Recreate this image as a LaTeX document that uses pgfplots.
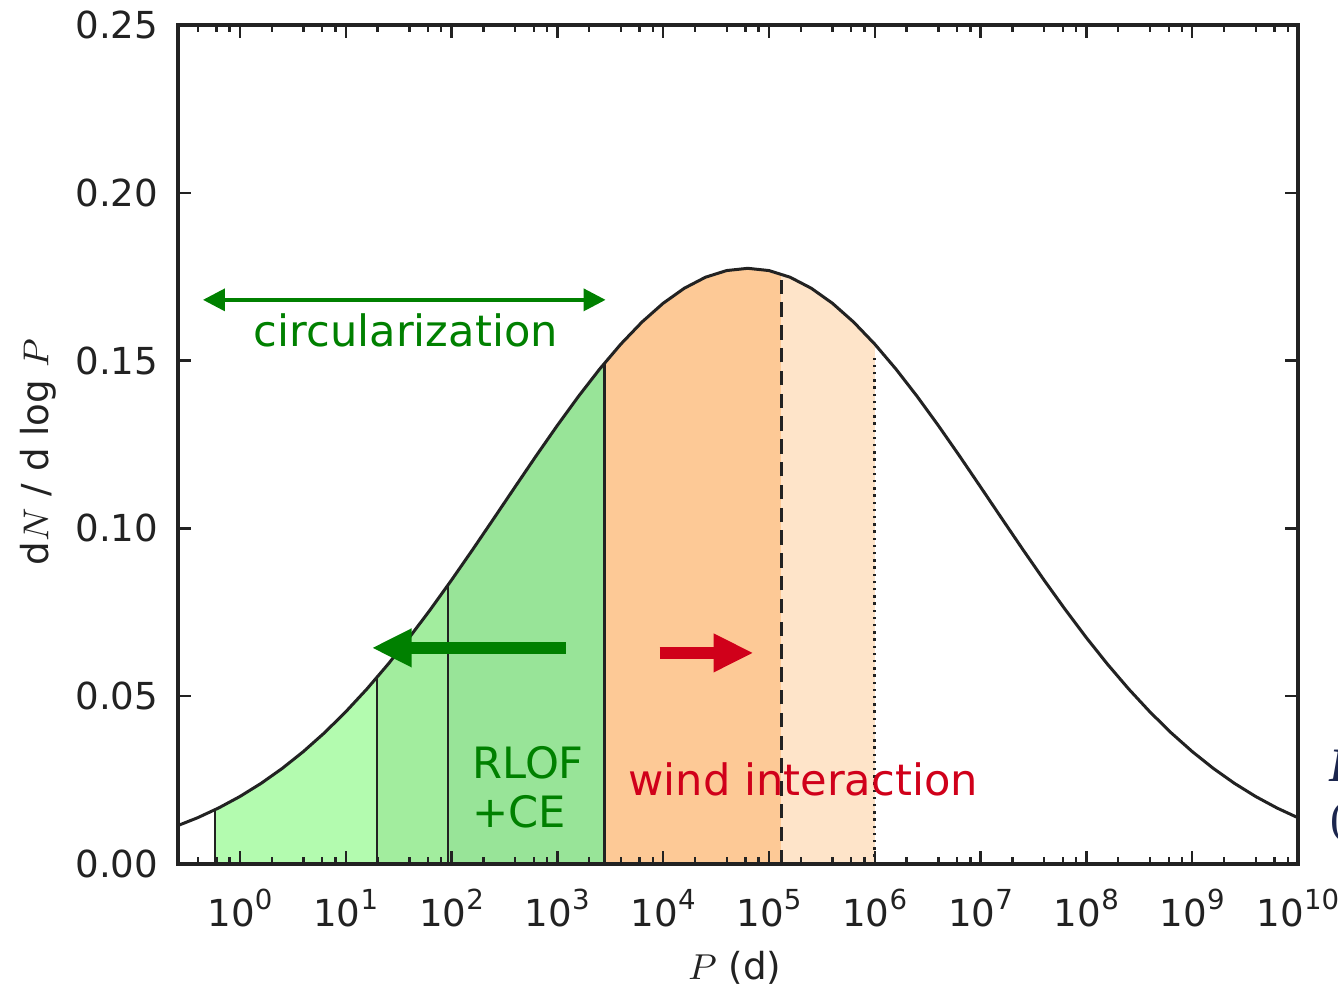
\documentclass[border=0pt]{standalone}
\usepackage{fontspec}
\setmainfont{DejaVu Sans}
\newfontfamily\serifside{Liberation Serif}
\usepackage{pgfplots}
\usepackage{pgfplotstable}
\pgfplotsset{compat=1.18}
\usepgfplotslibrary{fillbetween}
\usetikzlibrary{arrows.meta}

\definecolor{gA}{RGB}{179,251,175}
\definecolor{gB}{RGB}{162,237,158}
\definecolor{gC}{RGB}{152,228,152}
\definecolor{oA}{RGB}{253,201,150}
\definecolor{oB}{RGB}{254,228,201}
\definecolor{txtgreen}{RGB}{0,128,0}
\definecolor{txtred}{RGB}{208,0,26}
\definecolor{ink}{RGB}{34,34,34}
\definecolor{navy}{RGB}{28,38,78}

% power-of-ten tick label
\newcommand{\tenpow}[1]{10\raisebox{4.3pt}{\fontsize{6.9}{7}\selectfont #1}}

% log-normal period distribution, columns: log10 P [d], dN/dlogP
\pgfplotstableread{
lp    f
-0.6  0.01128
-0.4  0.01378
-0.2  0.01671
0.0   0.02011
0.2   0.02402
0.4   0.02848
0.6   0.03351
0.8   0.03912
1.0   0.04534
1.2   0.05214
1.4   0.05952
1.6   0.06743
1.8   0.07582
2.0   0.08460
2.2   0.09369
2.4   0.10298
2.6   0.11234
2.8   0.12163
3.0   0.13068
3.2   0.13935
3.4   0.14748
3.6   0.15491
3.8   0.16149
4.0   0.16708
4.2   0.17156
4.4   0.17484
4.6   0.17683
4.8   0.17750
5.0   0.17683
5.2   0.17484
5.4   0.17156
5.6   0.16708
5.8   0.16149
6.0   0.15491
6.2   0.14748
6.4   0.13935
6.6   0.13068
6.8   0.12163
7.0   0.11234
7.2   0.10298
7.4   0.09369
7.6   0.08460
7.8   0.07582
8.0   0.06743
8.2   0.05952
8.4   0.05214
8.6   0.04534
8.8   0.03912
9.0   0.03351
9.2   0.02848
9.4   0.02402
9.6   0.02011
9.8   0.01671
10.0  0.01378
}\dist

\begin{document}
\begin{tikzpicture}
\begin{axis}[
  at={(0,0)}, anchor=south west,
  scale only axis, width=280pt, height=209.75pt,
  xmin=-0.585, xmax=10, ymin=0, ymax=0.25,
  axis on top,
  axis line style={ink, line width=0.85pt},
  tick align=inside,
  major tick length=3.3pt, minor tick length=1.75pt,
  every tick/.style={ink, line width=0.6pt},
  xtick={0,1,2,3,4,5,6,7,8,9,10},
  xticklabels={\tenpow{0},\tenpow{1},\tenpow{2},\tenpow{3},\tenpow{4},\tenpow{5},\tenpow{6},\tenpow{7},\tenpow{8},\tenpow{9},\tenpow{10}},
  minor xtick={-0.398,-0.222,-0.097,
    0.301,0.602,0.778,0.903, 1.301,1.602,1.778,1.903,
    2.301,2.602,2.778,2.903, 3.301,3.602,3.778,3.903,
    4.301,4.602,4.778,4.903, 5.301,5.602,5.778,5.903,
    6.301,6.602,6.778,6.903, 7.301,7.602,7.778,7.903,
    8.301,8.602,8.778,8.903, 9.301,9.602,9.778,9.903},
  ytick={0,0.05,0.1,0.15,0.2,0.25},
  yticklabels={0.00,0.05,0.10,0.15,0.20,0.25},
  minor ytick={},
  ticklabel style={font=\fontsize{9.3}{11}\selectfont, text=ink},
  xticklabel style={anchor=base, yshift=-15.7pt},
  yticklabel style={xshift=-1.4pt},
  xlabel={$P$ (d)},
  ylabel={d$N$ / d log $P$},
  label style={font=\fontsize{9.3}{11}\selectfont, text=ink},
  xlabel style={at={(axis description cs:0.497,-0.124)}, anchor=center},
  ylabel style={at={(axis description cs:-0.125,0.491)}, anchor=center},
]
\addplot[name path=curve, draw=none, forget plot] table[x=lp, y=f] {\dist};
\addplot[name path=base, draw=none, forget plot] coordinates {(-0.6,0) (10,0)};

\addplot[fill=gA, draw=none] fill between[of=curve and base, soft clip={domain=-0.236:1.297}];
\addplot[fill=gB, draw=none] fill between[of=curve and base, soft clip={domain=1.297:1.967}];
\addplot[fill=gC, draw=none] fill between[of=curve and base, soft clip={domain=1.967:3.447}];
\addplot[fill=oA, draw=none] fill between[of=curve and base, soft clip={domain=3.447:5.115}];
\addplot[fill=oB, draw=none] fill between[of=curve and base, soft clip={domain=5.115:6.0}];

% region boundaries
\addplot[ink, line width=0.65pt] coordinates {(-0.236,0) (-0.236,0.01615)};
\addplot[ink, line width=0.65pt] coordinates {(1.297,0) (1.297,0.05565)};
\addplot[ink, line width=0.65pt] coordinates {(1.967,0) (1.967,0.08313)};
\addplot[ink, line width=0.65pt] coordinates {(3.447,0) (3.447,0.14930)};
\addplot[ink, line width=0.8pt, dash pattern=on 3.6pt off 2.1pt] coordinates {(5.115,0) (5.115,0.17584)};
\addplot[ink, line width=0.7pt, dash pattern=on 0.6pt off 1.2pt] coordinates {(6.0,0) (6.0,0.1515)};

% distribution curve
\addplot[ink, line width=0.75pt] table[x=lp, y=f] {\dist};

% annotations
\draw[txtgreen, line width=0.9pt, {Triangle[length=5.5pt,width=5.5pt]}-{Triangle[length=5.5pt,width=5.5pt]}]
  (axis cs:-0.349,0.1681) -- (axis cs:3.456,0.1681);
\node[txtgreen, font=\fontsize{10.8}{12}\selectfont] at (axis cs:1.568,0.1591) {circularization};

\draw[txtgreen, line width=3pt, -{Triangle[length=10pt,width=9pt]}]
  (axis cs:3.078,0.0644) -- (axis cs:1.246,0.0644);
\draw[txtred, line width=2.8pt, -{Triangle[length=10pt,width=9pt]}]
  (axis cs:3.966,0.0629) -- (axis cs:4.854,0.0629);

\node[txtgreen, font=\fontsize{10.8}{12.2}\selectfont, anchor=west, align=left, inner sep=0pt]
  at (axis cs:2.19,0.0228) {RLOF\\+CE};
\node[txtred, font=\fontsize{10.8}{12}\selectfont, anchor=west, inner sep=0pt]
  at (axis cs:3.664,0.0253) {wind interaction};
\end{axis}
% neighbouring text at the right edge
\node[navy, font=\serifside\fontsize{12}{13}\selectfont\bfseries\itshape, anchor=west, inner sep=0pt] at (287.6pt,24.5pt) {B};
\node[navy, font=\serifside\fontsize{11.5}{13}\selectfont, anchor=west, inner sep=0pt] at (287.9pt,10.5pt) {(};
% page area
\pgfresetboundingbox
\path[use as bounding box] (-44.5pt,-30.25pt) rectangle (290pt,216pt);
\end{tikzpicture}
\end{document}
